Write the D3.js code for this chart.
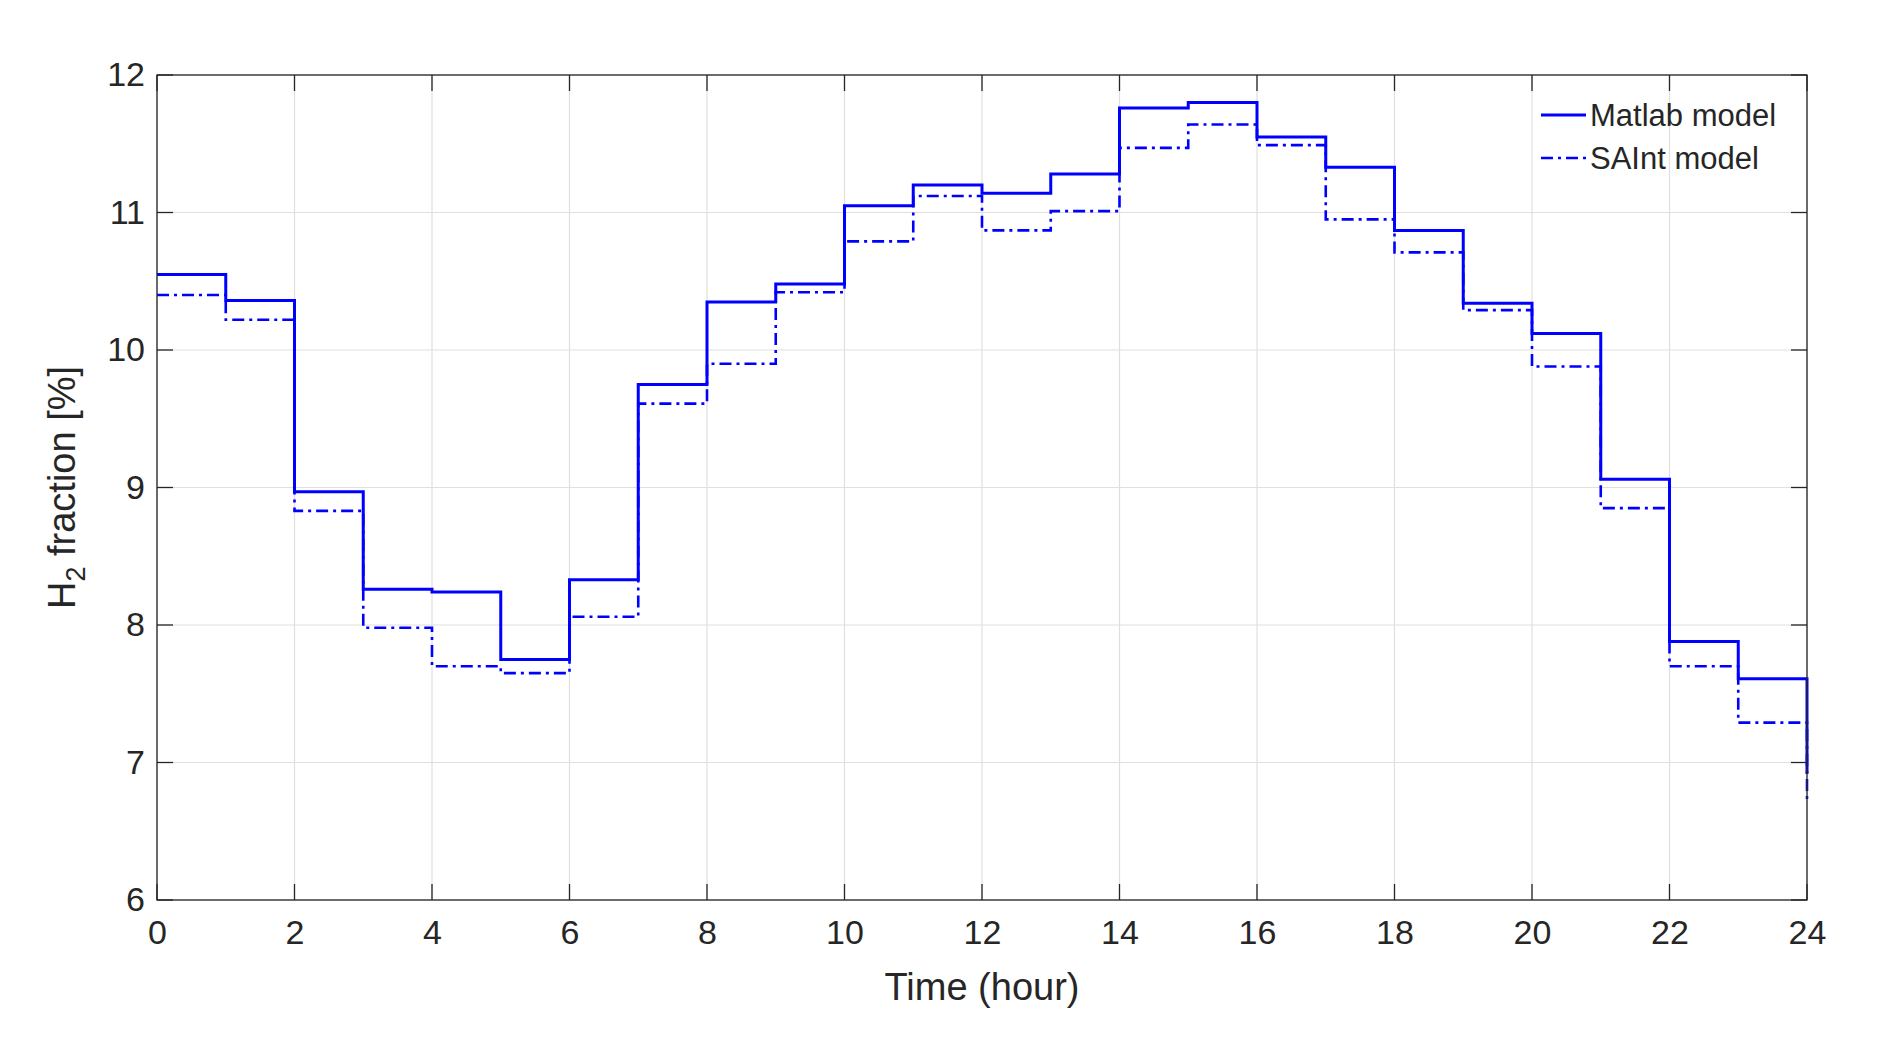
<!DOCTYPE html>
<html><head><meta charset="utf-8">
<script src="https://cdn.jsdelivr.net/npm/d3@7"></script>
<style>body{margin:0;background:#fff}text{font-family:"Liberation Sans",Arial,sans-serif;fill:#262626}</style>
</head><body><svg id="c" width="1888" height="1052"></svg>
<script>
const hours = d3.range(0,25);
const matlab = [10.55,10.36,8.97,8.26,8.24,7.75,8.33,9.75,10.35,10.48,11.05,11.2,11.14,11.28,11.76,11.8,11.55,11.33,10.87,10.34,10.12,9.06,7.88,7.61,6.92];
const saint  = [10.40,10.22,8.83,7.98,7.70,7.65,8.06,9.61,9.90,10.42,10.79,11.12,10.87,11.01,11.47,11.64,11.49,10.95,10.71,10.29,9.88,8.85,7.70,7.29,6.71];
const xTicks = d3.range(0,25,2);
const yTicks = d3.range(6,13,1);
const seriesNames = ["Matlab model","SAInt model"];

const svg = d3.select("#c");
const L=157,R=1807,T=75,B=900;
const x=d3.scaleLinear().domain([0,24]).range([L,R]);
const y=d3.scaleLinear().domain([6,12]).range([B,T]);
const g=svg.append("g");
g.selectAll(".gx").data(xTicks).join("line").attr("x1",d=>x(d)).attr("x2",d=>x(d)).attr("y1",T).attr("y2",B).attr("stroke","#dfdfdf").attr("stroke-width",1.2);
g.selectAll(".gy").data(yTicks).join("line").attr("y1",d=>y(d)).attr("y2",d=>y(d)).attr("x1",L).attr("x2",R).attr("stroke","#dfdfdf").attr("stroke-width",1.2);

const line=d3.line().x(d=>x(d[0])).y(d=>y(d[1])).curve(d3.curveStepAfter);
svg.append("path").datum(hours.map((h,i)=>[h,saint[i]])).attr("d",line).attr("fill","none").attr("stroke","#0000ff").attr("stroke-width",2.6).attr("stroke-dasharray","12,5,3,5");
svg.append("path").datum(hours.map((h,i)=>[h,matlab[i]])).attr("d",line).attr("fill","none").attr("stroke","#0000ff").attr("stroke-width",3);

const ax=svg.append("g").attr("transform",`translate(0,${B})`).call(d3.axisBottom(x).tickValues(xTicks).tickFormat(d3.format("d")).tickSize(0).tickPadding(20));
const ay=svg.append("g").attr("transform",`translate(${L},0)`).call(d3.axisLeft(y).tickValues(yTicks).tickFormat(d3.format("d")).tickSize(0).tickPadding(12));
[ax,ay].forEach(a=>{a.select(".domain").remove();a.attr("font-size",null).attr("font-family",null);a.selectAll("text").style("font-size","34px").attr("fill","#262626");});
svg.append("rect").attr("x",L).attr("y",T).attr("width",R-L).attr("height",B-T).attr("fill","none").attr("stroke","#262626").attr("stroke-width",1.3);
svg.selectAll(".tb").data(xTicks).join("line").attr("x1",d=>x(d)).attr("x2",d=>x(d)).attr("y1",B).attr("y2",B-16).attr("stroke","#262626").attr("stroke-width",1.3);
svg.selectAll(".tt").data(xTicks).join("line").attr("x1",d=>x(d)).attr("x2",d=>x(d)).attr("y1",T).attr("y2",T+16).attr("stroke","#262626").attr("stroke-width",1.3);
svg.selectAll(".tl").data(yTicks).join("line").attr("y1",d=>y(d)).attr("y2",d=>y(d)).attr("x1",L).attr("x2",L+16).attr("stroke","#262626").attr("stroke-width",1.3);
svg.selectAll(".tr").data(yTicks).join("line").attr("y1",d=>y(d)).attr("y2",d=>y(d)).attr("x1",R).attr("x2",R-16).attr("stroke","#262626").attr("stroke-width",1.3);

svg.append("text").attr("x",(L+R)/2).attr("y",1000).attr("text-anchor","middle").style("font-size","38px").text("Time (hour)");
const yl=svg.append("text").attr("transform",`translate(75,${(T+B)/2}) rotate(-90)`).attr("text-anchor","middle").style("font-size","38px");
yl.append("tspan").text("H");
yl.append("tspan").attr("dy",10).style("font-size","27px").text("2");
yl.append("tspan").attr("dy",-10).text(" fraction [%]");

const lg=svg.append("g");
seriesNames.forEach((n,i)=>{
  const yy=115+i*43;
  lg.append("line").attr("x1",1541).attr("x2",1586).attr("y1",yy).attr("y2",yy).attr("stroke","#0000ff").attr("stroke-width",i?2.6:3).attr("stroke-dasharray",i?"12,5,3,5":null);
  lg.append("text").attr("x",1590).attr("y",yy+11).style("font-size","31px").text(n);
});
</script></body></html>
